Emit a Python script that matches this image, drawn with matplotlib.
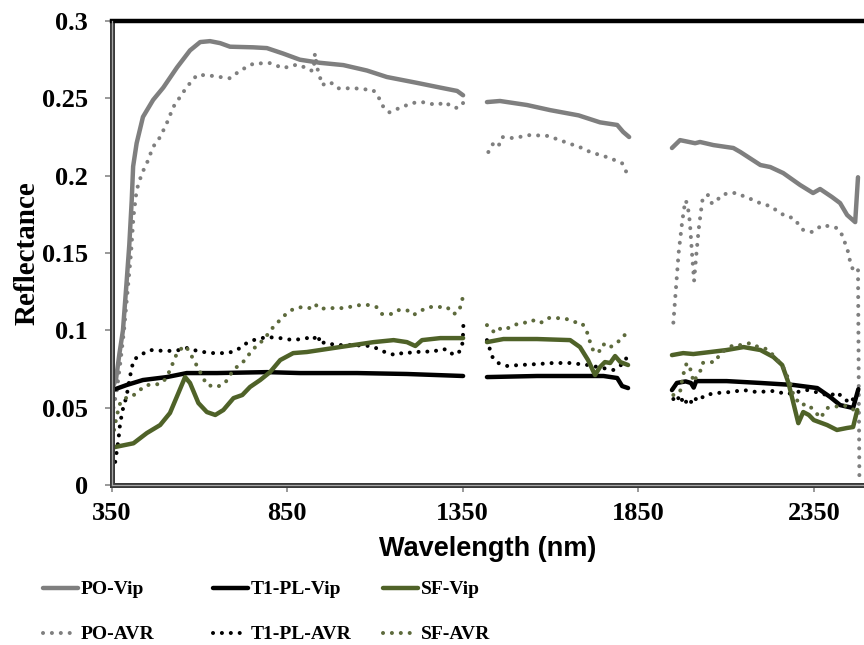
import numpy as np
import matplotlib.pyplot as plt

nan = np.nan

# PO-Vip (solid grey)
po_vip_wl = [350, 362, 372, 382, 392, 400, 407, 411, 421, 439, 468, 497, 536, 573, 602, 630, 659, 687,
             753, 792, 838, 886, 943, 1010, 1077, 1134, 1220, 1285, 1334, 1351, nan,
             1419, 1456, 1533, 1599, 1680, 1741, 1790, 1807, 1824, nan,
             1946, 1969, 2012, 2026, 2064, 2121, 2141, 2198, 2226, 2263, 2311, 2348, 2368,
             2402, 2425, 2445, 2468, 2476]
po_vip = [0.062, 0.068, 0.085, 0.100, 0.130, 0.155, 0.184, 0.206, 0.221, 0.238, 0.249, 0.257, 0.270,
          0.281, 0.2864, 0.287, 0.2857, 0.2834, 0.283, 0.2825, 0.279, 0.275, 0.273, 0.2715, 0.268,
          0.2638, 0.260, 0.257, 0.2548, 0.252, nan,
          0.2476, 0.2483, 0.2457, 0.2424, 0.239, 0.2345, 0.2328, 0.2283, 0.225, nan,
          0.2179, 0.223, 0.221, 0.2218, 0.2198, 0.2179, 0.2153, 0.2069, 0.2056, 0.2017, 0.194,
          0.1888, 0.1914, 0.1862, 0.1823, 0.1746, 0.170, 0.199]

# PO-AVR (dotted grey)
po_avr_wl = [355, 365, 375, 385, 395, 405, 412, 421, 436, 450, 468, 488, 507, 526, 545, 564, 593, 621,
             659, 687, 716, 754, 801, 839, 867, 887, 915, 925, 929, 935, 943, 949, 972, 995, 1043,
             1095, 1110, 1124, 1141, 1167, 1206, 1234, 1277, 1300, 1319, 1337, 1351, nan,
             1423, 1436, 1451, 1462, 1494, 1542, 1593, 1641, 1690, 1713, 1761, 1784, 1804, 1816, nan,
             1950, 1955, 1965, 1975, 1984, 1990, 1997, 2003, 2009, 2015, 2022, 2028, 2034, 2049,
             2060, 2070, 2088, 2108, 2131, 2155, 2178, 2202, 2226, 2246, 2269, 2292, 2320, 2345,
             2362, 2377, 2402, 2416, 2431, 2439, 2448, 2454, 2462, 2476, 2478, 2480]
po_avr = [0.050, 0.062, 0.080, 0.100, 0.125, 0.150, 0.1735, 0.1907, 0.2015, 0.208, 0.2187, 0.225,
          0.234, 0.2446, 0.251, 0.2574, 0.2651, 0.265, 0.2638, 0.263, 0.268, 0.2725, 0.2728, 0.2695,
          0.2715, 0.2715, 0.268, 0.268, 0.279, 0.270, 0.264, 0.2586, 0.2606, 0.2565, 0.2565, 0.2553,
          0.2508, 0.2444, 0.241, 0.2435, 0.247, 0.2476, 0.2457, 0.2476, 0.2444, 0.2437, 0.247, nan,
          0.2153, 0.2205, 0.2186, 0.225, 0.2243, 0.2263, 0.2257, 0.2218, 0.2179, 0.2153, 0.212,
          0.210, 0.208, 0.2024, nan,
          0.105, 0.120, 0.150, 0.170, 0.184, 0.182, 0.170, 0.150, 0.132, 0.148, 0.165, 0.176, 0.186,
          0.1875, 0.182, 0.183, 0.1875, 0.1888, 0.1888, 0.1862, 0.1843, 0.1817, 0.1804, 0.1772,
          0.1739, 0.1726, 0.1649, 0.1636, 0.1662, 0.1681, 0.1668, 0.1662, 0.1616, 0.1565, 0.1506,
          0.144, 0.139, 0.140, 0.070, 0.003]

# T1-PL-Vip (solid black)
t1_vip_wl = [350, 360, 393, 439, 507, 564, 650, 792, 887, 1049, 1191, 1351, nan,
             1419, 1562, 1751, 1790, 1804, 1821, nan,
             1946, 1960, 1985, 2000, 2008, 2015, 2102, 2198, 2292, 2360, 2397, 2425, 2462, 2477]
t1_vip = [0.061, 0.062, 0.0647, 0.0679, 0.0698, 0.0724, 0.0724, 0.073, 0.0724, 0.0724, 0.0718, 0.0705,
          nan, 0.0698, 0.0705, 0.0705, 0.0692, 0.064, 0.0627, nan,
          0.0614, 0.066, 0.067, 0.066, 0.063, 0.0672, 0.0672, 0.066, 0.0647, 0.0627, 0.0569, 0.0517,
          0.0498, 0.062]

# T1-PL-AVR (dotted black)
t1_avr_wl = [360, 369, 374, 383, 392, 402, 412, 431, 459, 507, 545, 564, 583, 612, 640, 659, 681, 707,
             730, 754, 792, 830, 867, 906, 920, 939, 943, 958, 986, 1035, 1086, 1110, 1134, 1160, 1186,
             1209, 1234, 1262, 1291, 1310, 1323, 1343, 1350, 1351, 1352, nan,
             1419, 1428, 1436, 1451, 1476, 1513, 1562, 1607, 1656, 1706, 1750, 1779, 1810, 1821, nan,
             1950, 1961, 1969, 1980, 1989, 1997, 2006, 2021, 2040, 2074, 2112, 2150, 2188, 2235, 2274,
             2302, 2331, 2368, 2396, 2416, 2434, 2454, 2474]
t1_avr = [0.015, 0.029, 0.040, 0.0504, 0.057, 0.070, 0.0808, 0.084, 0.0873, 0.0866, 0.0873, 0.0886,
          0.0873, 0.086, 0.0853, 0.0853, 0.0853, 0.0873, 0.0912, 0.0937, 0.0957, 0.095, 0.0937, 0.095,
          0.0937, 0.097, 0.0912, 0.0924, 0.0905, 0.0905, 0.0899, 0.088, 0.0853, 0.084, 0.086, 0.0853,
          0.0866, 0.086, 0.088, 0.0873, 0.084, 0.0866, 0.0924, 0.0989, 0.1047, nan,
          0.0937, 0.0873, 0.082, 0.0789, 0.077, 0.0776, 0.0782, 0.0789, 0.0789, 0.0776, 0.0756, 0.0744,
          0.0789, 0.0847, nan,
          0.0556, 0.0582, 0.053, 0.057, 0.0524, 0.0517, 0.057, 0.0543, 0.0582, 0.0595, 0.0601, 0.0614,
          0.0601, 0.0608, 0.0588, 0.0601, 0.0614, 0.0595, 0.0575, 0.0601, 0.0562, 0.053, 0.0595]

# SF-Vip (solid green)
sf_vip_wl = [350, 360, 412, 450, 488, 516, 540, 559, 573, 597, 621, 645, 668, 697, 722, 744, 773, 801,
             830, 867, 906, 1000, 1096, 1153, 1191, 1215, 1234, 1286, 1351, nan,
             1419, 1466, 1562, 1656, 1684, 1707, 1727, 1741, 1755, 1770, 1784, 1799, 1821, nan,
             1946, 1978, 2007, 2055, 2102, 2150, 2198, 2235, 2260, 2278, 2292, 2306, 2320, 2336, 2350,
             2388, 2416, 2445, 2462, 2474]
sf_vip = [0.024, 0.0246, 0.027, 0.0336, 0.0388, 0.0466, 0.0595, 0.0698, 0.066, 0.053, 0.0472, 0.0453,
          0.0485, 0.0562, 0.0582, 0.0634, 0.0679, 0.073, 0.0808, 0.0853, 0.086, 0.0892, 0.0924, 0.0937,
          0.0924, 0.0899, 0.0937, 0.095, 0.095, nan,
          0.0924, 0.0944, 0.0944, 0.0937, 0.0892, 0.0808, 0.0711, 0.0763, 0.0795, 0.0789, 0.0834,
          0.0795, 0.0776, nan,
          0.084, 0.0853, 0.0847, 0.086, 0.0873, 0.0892, 0.0873, 0.0828, 0.0776, 0.066, 0.053, 0.040,
          0.0472, 0.0453, 0.042, 0.0388, 0.0356, 0.0369, 0.0375, 0.0485]

# SF-AVR (dotted olive)
sf_avr_wl = [352, 362, 372, 385, 407, 426, 450, 474, 497, 512, 522, 536, 550, 561, 573, 587, 602, 621,
             650, 673, 687, 702, 722, 744, 764, 782, 810, 824, 844, 867, 892, 915, 929, 943, 963, 1010,
             1058, 1080, 1104, 1120, 1148, 1166, 1191, 1210, 1234, 1258, 1280, 1305, 1324, 1338, 1348,
             1351, nan,
             1419, 1442, 1462, 1481, 1505, 1524, 1547, 1571, 1593, 1618, 1646, 1669, 1690, 1704, 1711,
             1719, 1736, 1750, 1767, 1787, 1807, 1818, nan,
             1950, 1969, 1977, 1988, 2003, 2006, 2026, 2032, 2049, 2069, 2084, 2121, 2145, 2169, 2192,
             2216, 2240, 2264, 2283, 2292, 2312, 2331, 2350, 2369, 2388, 2408, 2431, 2454, 2471]
sf_avr = [0.030, 0.042, 0.052, 0.056, 0.057, 0.0608, 0.0647, 0.0647, 0.0666, 0.0724, 0.0776, 0.0853,
          0.0886, 0.0899, 0.0853, 0.0795, 0.073, 0.0647, 0.0634, 0.066, 0.0711, 0.0756, 0.0789, 0.0853,
          0.0905, 0.0937, 0.1021, 0.1054, 0.110, 0.1138, 0.1151, 0.1144, 0.117, 0.1138, 0.1144, 0.1144,
          0.1164, 0.1164, 0.1151, 0.1106, 0.1106, 0.1131, 0.1131, 0.110, 0.1131, 0.1151, 0.1151, 0.1151,
          0.1106, 0.1119, 0.1183, 0.124, nan,
          0.1034, 0.0983, 0.1021, 0.1015, 0.1041, 0.1047, 0.1067, 0.1047, 0.108, 0.108, 0.1073, 0.1054,
          0.1047, 0.0989, 0.0937, 0.0879, 0.0853, 0.0912, 0.0886, 0.0918, 0.095, 0.1002, nan,
          0.0582, 0.0601, 0.0705, 0.0789, 0.073, 0.0666, 0.073, 0.0789, 0.0795, 0.0795, 0.0853, 0.0905,
          0.0905, 0.0918, 0.0892, 0.0879, 0.0828, 0.0756, 0.066, 0.0582, 0.0517, 0.0524, 0.0485, 0.0433,
          0.0498, 0.0504, 0.0517, 0.0504, 0.0472]

labels = ['PO-Vip', 'PO-AVR', 'T1-PL-Vip', 'T1-PL-AVR', 'SF-Vip', 'SF-AVR']

grey = '#7f7f7f'
green = '#4f6228'
olive = '#5d6a3c'
dot = (0, (0.01, 2.2))

fig = plt.figure(figsize=(8.64, 6.45), dpi=100)
ax = fig.add_axes([0.1293, 0.248, 0.8735, 0.7194])

solid_kw = dict(lw=3.2, solid_capstyle='round', solid_joinstyle='round')
dot_kw = dict(lw=2.9, linestyle=dot, dash_capstyle='round')

l1, = ax.plot(po_vip_wl, po_vip, color=grey, **solid_kw)
l2, = ax.plot(po_avr_wl, po_avr, color=grey, **dot_kw)
l3, = ax.plot(t1_vip_wl, t1_vip, color='black', **solid_kw)
l4, = ax.plot(t1_avr_wl, t1_avr, color='black', **dot_kw)
l5, = ax.plot(sf_vip_wl, sf_vip, color=green, **solid_kw)
l6, = ax.plot(sf_avr_wl, sf_avr, color=olive, **dot_kw)

ax.set_xlim(350, 2500)
ax.set_ylim(0, 0.3)
ax.set_xticks([350, 850, 1350, 1850, 2350])
ax.set_yticks([0, 0.05, 0.1, 0.15, 0.2, 0.25, 0.3])
ax.set_yticklabels(['0', '0.05', '0.1', '0.15', '0.2', '0.25', '0.3'])

tick_font = dict(family='Liberation Serif', weight='bold', size=19)
for lab in ax.get_xticklabels() + ax.get_yticklabels():
    lab.set_fontproperties(tick_font)
ax.tick_params(direction='out', length=5, width=1.2, color='#888888')
ax.tick_params(axis='x', pad=7)
ax.tick_params(axis='y', pad=12)

# frame: heavy top line, double-ruled left and bottom axes
ax.spines['right'].set_visible(False)
ax.spines['top'].set_linewidth(3.2)
ax.spines['top'].set_color('black')
for s in ['left', 'bottom']:
    ax.spines[s].set_linewidth(3.6)
    ax.spines[s].set_color('#3a3a3a')
ax.axhline(0, color='#a8a8a8', lw=0.9, clip_on=False, zorder=3)
ax.axvline(350, color='#a8a8a8', lw=0.9, clip_on=False, zorder=3)

ax.set_ylabel('Reflectance', fontfamily='Liberation Serif', fontweight='bold', fontsize=21)
ax.yaxis.set_label_coords(-0.112, 0.5)
ax.yaxis.label.set_va('center')
ax.set_xlabel('Wavelength (nm)', fontfamily='Liberation Sans', fontweight='bold', fontsize=19.5)
ax.xaxis.set_label_coords(0.4986, -0.138)
ax.xaxis.label.set_va('center')

# legend laid out in three fixed columns
handles = [l1, l2, l3, l4, l5, l6]
col_x = [43 / 864, 213 / 864, 383 / 864]
for i, x0 in enumerate(col_x):
    fig.legend(handles[2 * i:2 * i + 2], labels[2 * i:2 * i + 2], loc='center left',
               bbox_to_anchor=(x0, 0.051), frameon=False, borderpad=0, borderaxespad=0,
               handlelength=1.8, handletextpad=0.15, labelspacing=1.4,
               prop=dict(family='Liberation Serif', weight='bold', size=14))

fig.savefig('out.png', dpi=100)
